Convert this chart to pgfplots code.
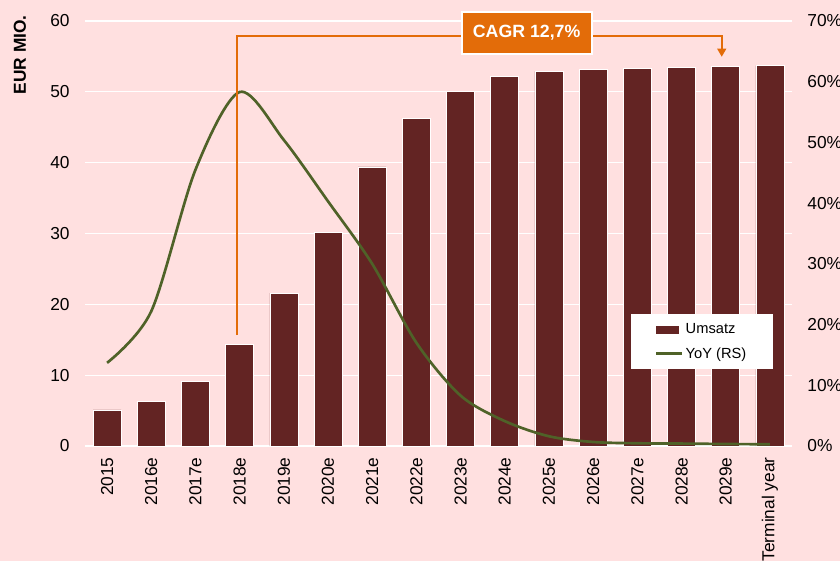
\documentclass[border=0pt]{standalone}
\usepackage{pgfplots}
\pgfplotsset{compat=1.18}
\usepackage{fontspec}
\setmainfont{Liberation Sans}
\definecolor{bgc}{RGB}{255,224,224}
\definecolor{barc}{HTML}{632423}
\definecolor{linec}{HTML}{4F6228}
\definecolor{orc}{HTML}{E36C09}
\begin{document}
\begin{tikzpicture}
\path[fill=bgc,use as bounding box] (-63.75pt,-86.25pt) rectangle (566.25pt,334.5pt);
\begin{axis}[
  scale only axis, width=530.25pt, height=318.75pt,
  xmin=-0.5, xmax=15.5, ymin=0, ymax=60,
  axis y line*=left, axis x line*=bottom,
  axis line style={draw=none},
  major tick length=0pt,
  ytick={0,10,...,60},
  ymajorgrids, grid style={white, line width=0.9pt},
  xtick={0,...,15},
  xticklabels={2015,2016e,2017e,2018e,2019e,2020e,2021e,2022e,2023e,2024e,2025e,2026e,2027e,2028e,2029e,Terminal year},
  xticklabel style={rotate=90, anchor=east, font=\fontsize{13}{15}\selectfont},
  xticklabel shift=5pt,
  yticklabel style={font=\fontsize{13}{15}\selectfont},
  yticklabel shift=8pt,
  /pgf/number format/assume math mode=true,
  clip=false,
]
\addplot[ybar, bar width=21pt, fill=barc, draw=white, line width=0.5pt] coordinates {
 (0,5.1) (1,6.25) (2,9.1) (3,14.4) (4,21.6) (5,30.2) (6,39.4) (7,46.2)
 (8,50.1) (9,52.2) (10,52.9) (11,53.2) (12,53.35) (13,53.45) (14,53.6) (15,53.7)};
\coordinate (A) at (axis cs:2.95,15.67);
\coordinate (B) at (axis cs:2.95,57.88);
\coordinate (C) at (axis cs:13.91,57.88);
\coordinate (D) at (axis cs:13.91,54.96);
\coordinate (BOX) at (axis cs:9.495,58.33);
\end{axis}
\begin{axis}[
  scale only axis, width=530.25pt, height=318.75pt,
  xmin=-0.5, xmax=15.5, ymin=0, ymax=70,
  axis x line=none,
  axis y line*=right,
  axis line style={draw=none},
  major tick length=0pt,
  ytick={0,10,...,70},
  yticklabels={0\%,10\%,20\%,30\%,40\%,50\%,60\%,70\%},
  yticklabel style={font=\fontsize{13}{15}\selectfont},
  yticklabel shift=8pt,
  legend style={at={(0.772,0.311)}, anchor=north west, fill=white, draw=none,
    font=\fontsize{11}{13}\selectfont, inner xsep=18pt, inner ysep=5pt, row sep=5pt},
  legend cell align=left,
]
\addlegendimage{legend image code/.code={\fill[barc] (0pt,-2.6pt) rectangle (16.5pt,2.6pt);}}
\addlegendentry{Umsatz}
\addplot[smooth, color=linec, line width=2pt, mark=none,
  legend image code/.code={\draw[linec, line width=2pt] (0pt,0pt) -- (19pt,0pt);}] coordinates {
 (0,13.7) (1,22.2) (2,45.5) (3,58.3) (4,50.4) (5,40.3) (6,30.0) (7,17.0)
 (8,8.3) (9,4.1) (10,1.6) (11,0.66) (12,0.45) (13,0.4) (14,0.33) (15,0.28)};
\addlegendentry{YoY (RS)}
\end{axis}
\draw[orc, line width=1.5pt] (A) -- (B) -- (C) -- ([yshift=3pt]D);
\fill[orc] (D) -- ++(-3.5pt,6pt) -- ++(7pt,0) -- cycle;
\node[fill=orc, draw=white, line width=1.5pt, minimum width=97.5pt, minimum height=31.5pt,
  text=white, font=\bfseries\fontsize{13.3}{15}\selectfont] at (BOX) {CAGR 12,7\%};
\node[rotate=90, anchor=east, font=\bfseries\fontsize{13}{15}\selectfont, inner sep=0pt] at (-48.75pt,323.25pt) {EUR MIO.};
\end{tikzpicture}
\end{document}
